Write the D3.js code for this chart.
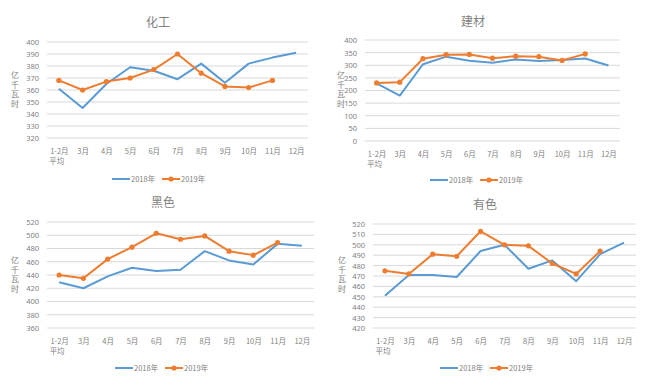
<!DOCTYPE html>
<html>
<head>
<meta charset="utf-8">
<script src="https://cdn.jsdelivr.net/npm/d3@7"></script>
<style>
  body { margin: 0; background: #fff; }
  text { font-family: "Noto Sans CJK SC", "Noto Sans", sans-serif; fill: #7f7f7f; }
</style>
</head>
<body>
<div id="app"></div>
<script>
const container = document.querySelector('#app');

// categories (months)
const months = ["1-2月", "3月", "4月", "5月", "6月", "7月", "8月", "9月", "10月", "11月", "12月"];
const seriesNames = ["2018年", "2019年"];

// 化工
const huagong2018 = [361, 345, 365, 379, 376, 369, 382, 366, 382, 387, 391];
const huagong2019 = [368, 360, 367, 370, 377, 390, 374, 363, 362, 368];
const huagongTicks = [320, 330, 340, 350, 360, 370, 380, 390, 400];

// 建材
const jiancai2018 = [228, 180, 304, 334, 318, 310, 323, 317, 321, 327, 299];
const jiancai2019 = [230, 233, 326, 342, 343, 328, 336, 334, 319, 345];
const jiancaiTicks = [0, 50, 100, 150, 200, 250, 300, 350, 400];

// 黑色
const heise2018 = [429, 420, 438, 451, 446, 448, 476, 462, 456, 487, 484];
const heise2019 = [440, 435, 464, 482, 503, 494, 499, 476, 470, 489];
const heiseTicks = [360, 380, 400, 420, 440, 460, 480, 500, 520];

// 有色
const youse2018 = [451, 471, 471, 469, 494, 500, 477, 485, 465, 491, 502];
const youse2019 = [475, 472, 491, 489, 513, 500, 499, 482, 472, 494];
const youseTicks = [420, 430, 440, 450, 460, 470, 480, 490, 500, 510, 520];

const width = 660;
const height = 386;
const blue = "#5b9bd5";
const orange = "#ed7d31";

const svg = d3.create("svg")
    .attr("width", width)
    .attr("height", height);

// panel layouts (plot area box, title and legend spots)
const panels = [
  { title: "化工", a: huagong2018, b: huagong2019, ticks: huagongTicks,
    left: 47, right: 308, top: 42, bottom: 138, titleX: 158, titleY: 27,
    yLabelX: 15, yLabelY: 78, legendX: 112, legendY: 179 },
  { title: "建材", a: jiancai2018, b: jiancai2019, ticks: jiancaiTicks,
    left: 365, right: 620, top: 40, bottom: 141, titleX: 473, titleY: 26,
    yLabelX: 341, yLabelY: 78, legendX: 430, legendY: 180 },
  { title: "黑色", a: heise2018, b: heise2019, ticks: heiseTicks,
    left: 47, right: 314, top: 222, bottom: 328, titleX: 163, titleY: 207,
    yLabelX: 15, yLabelY: 263, legendX: 115, legendY: 368 },
  { title: "有色", a: youse2018, b: youse2019, ticks: youseTicks,
    left: 373, right: 636, top: 224, bottom: 328, titleX: 485, titleY: 209,
    yLabelX: 342, yLabelY: 263, legendX: 440, legendY: 368 }
];

panels.forEach(p => {
  const g = svg.append("g");

  const x = d3.scalePoint()
      .domain(months)
      .range([p.left, p.right])
      .padding(0.5);

  const y = d3.scaleLinear()
      .domain(d3.extent(p.ticks))
      .range([p.bottom, p.top]);

  // gridlines
  g.append("g")
    .selectAll("line")
    .data(p.ticks)
    .join("line")
      .attr("x1", p.left)
      .attr("x2", p.right)
      .attr("y1", d => y(d))
      .attr("y2", d => y(d))
      .attr("stroke", "#d9d9d9")
      .attr("stroke-width", 1);

  // y axis labels
  const yAxis = g.append("g")
      .attr("transform", `translate(${p.left - 8},0)`)
      .call(d3.axisLeft(y).tickValues(p.ticks).tickSize(0).tickPadding(0));
  yAxis.select(".domain").remove();
  yAxis.selectAll("text")
      .attr("font-size", 7.5)
      .style("font-family", "'Noto Sans', sans-serif")
      .attr("fill", "#7f7f7f");

  // x axis labels
  const xAxis = g.append("g")
      .attr("transform", `translate(0,${p.bottom})`)
      .call(d3.axisBottom(x).tickSize(0).tickPadding(11));
  xAxis.select(".domain").remove();
  xAxis.selectAll("text")
      .attr("font-size", 7.5)
      .attr("fill", "#7f7f7f");
  xAxis.append("text")
      .attr("x", x(months[0]) - 2)
      .attr("y", 26)
      .attr("text-anchor", "middle")
      .attr("font-size", 7.5)
      .text("平均");

  // title
  g.append("text")
      .attr("x", p.titleX)
      .attr("y", p.titleY)
      .attr("text-anchor", "middle")
      .attr("font-size", 12)
      .attr("fill", "#595959")
      .text(p.title);

  // stacked y title
  g.append("g")
    .selectAll("text")
    .data("亿千瓦时".split(""))
    .join("text")
      .attr("x", p.yLabelX)
      .attr("y", (d, i) => p.yLabelY + i * 9.5)
      .attr("text-anchor", "middle")
      .attr("font-size", 8)
      .text(d => d);

  const line = d3.line()
      .x((d, i) => x(months[i]))
      .y(d => y(d));

  g.append("path")
      .datum(p.a)
      .attr("fill", "none")
      .attr("stroke", blue)
      .attr("stroke-width", 2)
      .attr("stroke-linejoin", "round")
      .attr("d", line);

  g.append("path")
      .datum(p.b)
      .attr("fill", "none")
      .attr("stroke", orange)
      .attr("stroke-width", 2)
      .attr("stroke-linejoin", "round")
      .attr("d", line);

  g.append("g")
    .selectAll("circle")
    .data(p.b)
    .join("circle")
      .attr("cx", (d, i) => x(months[i]))
      .attr("cy", d => y(d))
      .attr("r", 2.6)
      .attr("fill", orange);

  // legend
  const lg = g.append("g").attr("transform", `translate(${p.legendX},${p.legendY})`);
  lg.append("line").attr("x1", 0).attr("x2", 18).attr("stroke", blue).attr("stroke-width", 2);
  lg.append("text").attr("x", 19).attr("y", 3).attr("font-size", 7.5).text(seriesNames[0]);
  lg.append("line").attr("x1", 50).attr("x2", 68).attr("stroke", orange).attr("stroke-width", 2);
  lg.append("circle").attr("cx", 59).attr("r", 2.6).attr("fill", orange);
  lg.append("text").attr("x", 69).attr("y", 3).attr("font-size", 7.5).text(seriesNames[1]);
});

container.append(svg.node());
</script>
</body>
</html>
